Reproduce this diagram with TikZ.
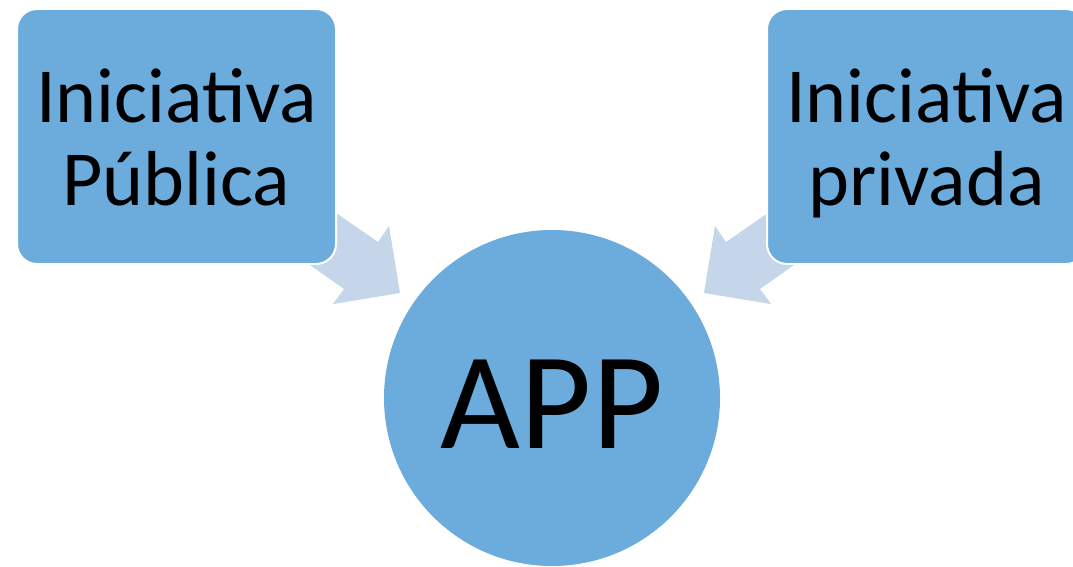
\documentclass[tikz,border=0pt]{standalone}
\usepackage{fontspec}
\setmainfont{Carlito}
\usepackage{xcolor}
\usepackage{tikz}

\definecolor{boxblue}{RGB}{108,172,220}
\definecolor{arrowblue}{RGB}{197,213,234}

\begin{document}
\begin{tikzpicture}[x=1pt,y=-1pt]
			\tikzstyle{initiative} = [fill=boxblue, draw=white, line width=2pt, rounded corners=20pt, minimum width=319pt, minimum height=255pt, align=center, text height=137pt, text depth=0pt, font=\fontsize{78}{83}\selectfont]
			\tikzstyle{app} = [circle, fill=boxblue, minimum size=336pt, inner sep=0pt, text height=100pt, text depth=0pt, font=\fontsize{138}{150}\selectfont]
			\tikzstyle{blockarrow} = [fill=arrowblue]
			
			\useasboundingbox (0,0) rectangle (1073,567);
			
			% block arrows go under the boxes
			\fill[blockarrow] (300,188) -- (378,242) -- (389,226) -- (400,293) -- (333,304) -- (344,289) -- (280,244) -- cycle;
			\fill[blockarrow] (804,188) -- (726,242) -- (715,226) -- (704,293) -- (771,304) -- (760,289) -- (824,244) -- cycle;
			
			\node[initiative](publica) at (176.5,136.5) {Iniciativa\\Pública};
			\node[initiative](privada) at (926.5,136.5) {Iniciativa\\privada};
			\node[app](app) at (552,398) {APP};
			
			\end{tikzpicture}
\end{document}
